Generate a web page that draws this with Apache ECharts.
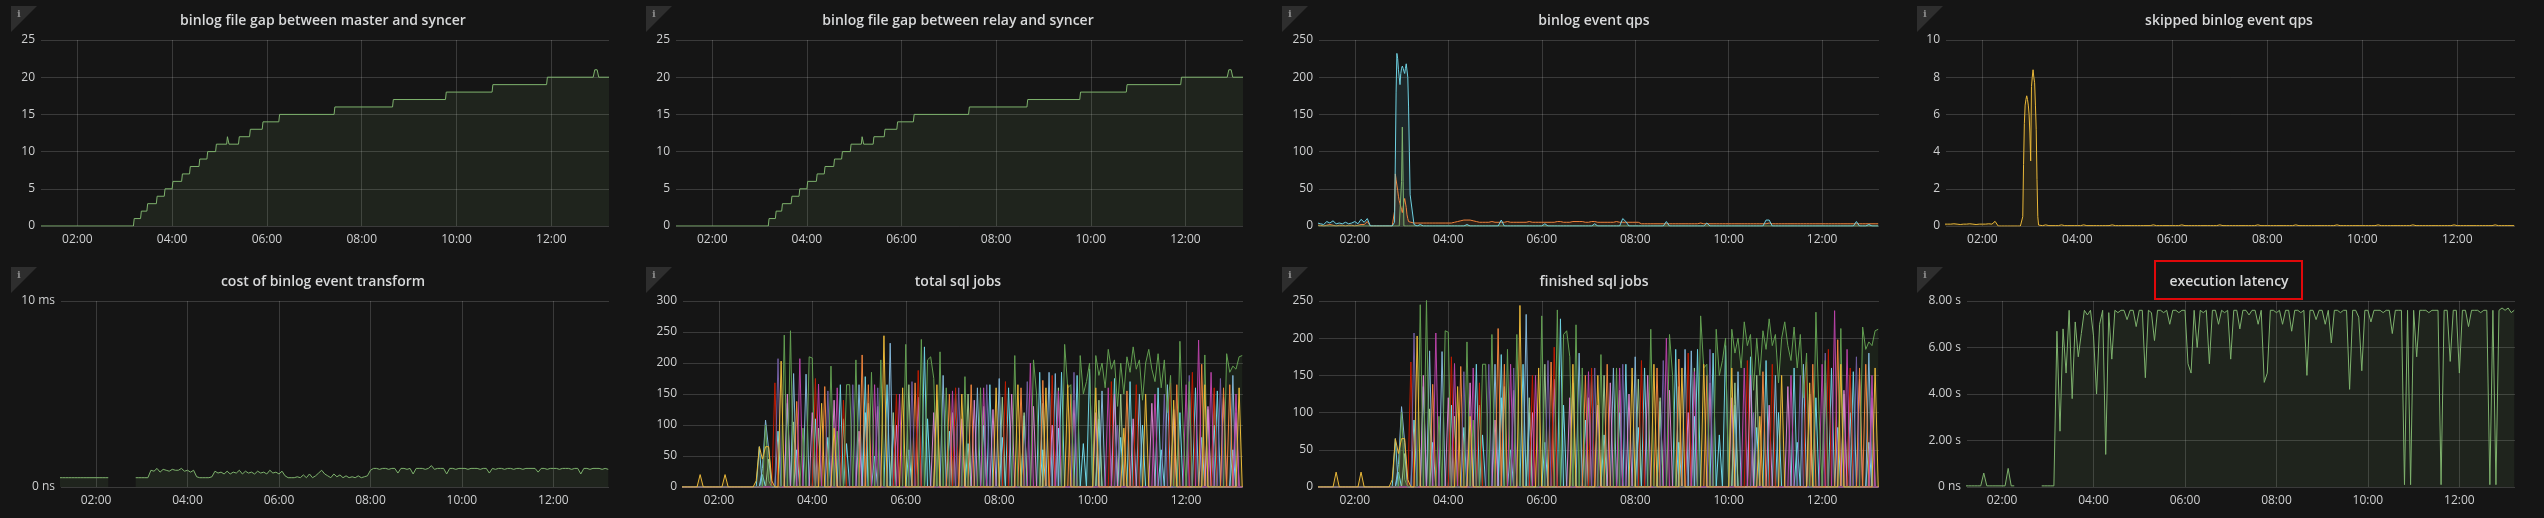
<!DOCTYPE html>
<html>
<head>
<meta charset="utf-8">
<script src="https://cdn.jsdelivr.net/npm/echarts@6.0.0/dist/echarts.min.js"></script>
<style>
  html, body { margin: 0; padding: 0; background: #151515; }
  #main { width: 2544px; height: 518px; }
</style>
</head>
<body>
<div id="main"></div>
<script>
// x values are minutes after midnight
const hourTicks = [120, 240, 360, 480, 600, 720];

// binlog file gap (master / relay), step changes
const gapTimes = [74,191,192,200,201,208,209,220,221,230,231,240,241,252,253,262,263,274,275,284,285,295,296,309,310,311,312,324,325,338,339,354,355,375,376,445,446,519,520,586,587,645,646,714,715,773,775,778,780,793];
const gapValues = [0,0,1,1,2,2,3,3,4,4,5,5,6,6,7,7,8,8,9,9,10,10,11,11,12,12,11,11,12,12,13,13,14,14,15,15,16,16,17,17,18,18,19,19,20,20,21,21,20,20];

// binlog event qps: pre (4 min), spike (1 min), post (4 min)
const qpsBluePre = [4,3,2,6,4,7,3,4,3,5, 3,4,6,3,9,5,10,0,0,0, 0,0,0,0,0];
const qpsBlueSpike = [0,0,5,90,180,232,225,210,200,190, 205,212,215,212,208,205,212,218,220,200, 160,100,42];
const qpsBluePost = [
  40,2,0,2,0,0,0,0,0,0, 0,0,0,0,0,0,0,0,2,0, 0,0,0,0,0,0,0,0,0,8, 0,0,0,0,0,0,0,0,0,0,
  0,0,0,3,0,0,0,0,0,0, 0,0,0,0,0,0,0,0,0,3, 0,0,0,0,0,0,0,0,10,6, 0,0,0,0,0,0,0,0,0,0,
  0,0,6,0,0,0,0,0,0,0, 0,0,0,0,0,4,0,0,0,0, 0,0,0,0,0,0,0,0,0,0, 0,0,0,0,8,8,0,0,0,0,
  0,0,0,0,0,0,0,0,0,0, 0,0,0,0,0,0,0,0,0,0, 0,0,0,6,0,0,0,2,0,0, 0];
const qpsOrangePre = [1,1,0,1,2,1,0,1,1,0, 1,1,0,1,2,2,6,0,0,0, 0,0,0,0,0];
const qpsOrangeSpike = [0,0,20,70,62,55,48,40,34,30, 28,22,18,25,32,37,35,25,15,10, 6,5,5];
const qpsOrangePost = [
  5,4,4,4,4,4,4,4,4,4, 4,4,4,4,5,6,7,8,8,8, 7,6,5,5,5,5,6,5,5,5, 5,6,5,5,5,5,5,5,6,5,
  5,5,5,5,5,5,5,6,6,5, 5,5,6,6,6,6,5,5,6,6, 5,5,5,5,5,5,6,5,5,5, 5,5,5,5,3,3,3,3,3,3,
  3,3,3,3,3,3,3,3,3,3, 3,3,3,4,3,3,3,3,3,3, 3,3,3,3,3,3,3,3,3,3, 3,3,3,3,3,4,3,3,3,3,
  3,3,3,3,3,3,3,3,3,3, 3,3,3,3,3,3,3,3,3,3, 3,3,3,3,3,3,3,3,3,3, 3];
const qpsGreenPre = [0,0,0,0,0,0,0,0,0,0, 0,0,0,0,0,0,0,0,0,0, 0,0,0,0,0];
const qpsGreenSpike = [0,0,0,0,0,0,0,0,0,0, 0,60,133,60,0,0,0,0,0,0, 0,0,0];
const qpsGreenPost = [
  0,0,0,0,0,0,0,0,0,0, 0,0,0,0,0,0,0,0,0,0, 0,0,0,0,0,0,0,0,0,0, 0,0,0,0,0,0,0,0,0,0,
  0,0,0,0,0,0,0,0,0,0, 0,0,0,0,0,0,0,0,0,0, 0,0,0,0,0,0,0,0,0,0, 0,0,0,0,0,0,0,0,0,0,
  0,0,0,0,0,0,0,0,0,0, 0,0,0,0,0,0,0,0,0,0, 0,0,0,0,0,0,0,0,0,0, 0,0,0,0,0,0,0,0,0,0,
  0,0,0,0,0,0,0,0,0,0, 0,0,0,0,0,0,0,0,0,0, 0,0,0,0,0,0,0,0,0,0, 0];

// skipped binlog event qps
const skipPre = [0.1,0.1,0.1,0.12,0.1,0.08,0.1,0.1,0.12,0.1, 0.08,0.1,0.1,0.1,0.12,0.1,0.25,0,0,0, 0,0,0,0,0];
const skipSpike = [0,0,0.5,3.3,5.5,6.5,6.8,7.0,6.8,6.5, 6.0,5.0,3.5,7.5,8.0,8.4,8.0,7.7,6.5,5.2, 2.5,0.5,0.05];
const skipPost = [
  0.02,0.02,0.06,0.02,0.02,0.02,0.02,0.06,0.02,0.02, 0.02,0.02,0.02,0.02,0.06,0.02,0.02,0.02,0.02,0.02,
  0.02,0.02,0.02,0.06,0.02,0.02,0.02,0.02,0.02,0.02, 0.02,0.02,0.02,0.02,0.02,0.02,0.06,0.02,0.02,0.02,
  0.02,0.02,0.02,0.02,0.02,0.06,0.02,0.02,0.02,0.02, 0.02,0.02,0.02,0.02,0.02,0.02,0.02,0.06,0.02,0.02,
  0.02,0.02,0.02,0.02,0.02,0.02,0.02,0.02,0.02,0.06, 0.02,0.02,0.02,0.02,0.02,0.02,0.02,0.02,0.02,0.02,
  0.02,0.06,0.02,0.02,0.02,0.02,0.02,0.02,0.02,0.02, 0.02,0.02,0.02,0.02,0.06,0.02,0.02,0.02,0.02,0.02,
  0.02,0.02,0.02,0.02,0.02,0.02,0.02,0.06,0.02,0.02, 0.02,0.02,0.02,0.02,0.02,0.02,0.02,0.02,0.06,0.02,
  0.02,0.02,0.02,0.02,0.02,0.02,0.02,0.02,0.02,0.02, 0.02,0.06,0.02,0.02,0.02,0.02,0.02,0.02,0.02,0.02,
  0.02,0.02,0.02,0.02,0.06,0.02,0.02,0.02,0.02,0.02, 0.02];

// cost of binlog event transform (ms), 4 min samples from 01:12
const costMs = [
  0.5,0.5,0.5,0.5,0.5,0.5,0.5,0.5,0.5,0.5, 0.5,0.5,0.5,0.5,0.5,0.5,0.5,null,null,null,
  null,null,null,null,null,0.5,0.5,0.5,0.5,0.5, 0.9,0.85,1.0,0.8,0.95,0.9,0.85,0.95,0.9,0.9,
  1.0,0.85,0.9,0.8,0.9,0.55,0.5,0.5,0.5,0.5, 0.55,0.85,0.75,0.8,0.7,0.85,0.7,0.8,0.75,0.9,
  0.7,0.85,0.75,0.8,0.7,0.85,0.75,0.8,0.7,0.9, 0.75,0.8,0.7,0.85,0.6,0.5,0.5,0.5,0.55,0.5,
  0.65,0.5,0.7,0.5,0.6,0.75,0.9,0.7,0.6,0.5, 0.7,0.55,0.65,0.5,0.6,0.5,0.55,0.5,0.6,0.5,
  0.55,0.6,0.9,1.0,1.0,0.95,1.0,1.0,0.95,1.0, 1.0,0.75,1.0,1.0,0.95,1.0,0.7,1.0,1.0,1.0,
  0.95,1.0,1.15,0.95,1.0,1.0,1.0,0.7,1.0,1.0, 0.95,1.0,1.0,1.0,0.95,1.0,1.0,1.0,0.95,1.0,
  1.0,0.75,1.0,0.95,1.0,1.0,0.95,1.0,1.0,0.95, 1.0,1.0,0.95,1.0,1.0,1.0,1.0,0.8,1.0,1.0,
  0.95,1.0,1.0,1.0,0.95,1.0,1.0,1.0,0.95,1.0, 1.0,0.7,1.0,1.0,0.95,1.0,1.0,1.0,0.95,1.0,
  0.95];

// execution latency (s), 4 min samples from 01:12
const latencyS = [
  0.05,0.05,0.05,0.05,0.05,0.05,0.6,0.05,0.05,0.05, 0.05,0.05,0.05,0.05,0.8,0.05,0.05,null,null,null,
  null,null,null,null,null,0.05,0.05,0.05,0.05,0.05, 6.7,2.4,6.8,4.9,7.6,3.8,7.1,5.6,6.6,7.6,
  7.4,7.6,6.5,4.0,7.0,7.6,1.4,7.5,5.5,7.6, 7.5,7.6,7.6,7.2,7.6,7.6,6.9,7.6,7.6,4.7,
  7.6,7.5,6.3,7.6,7.6,7.5,7.6,7.0,7.6,7.6, 7.5,7.6,7.6,5.3,4.9,7.6,6.0,7.6,7.5,7.6,
  5.3,7.6,7.6,7.0,7.6,7.5,7.6,5.5,7.6,7.6, 6.8,7.6,7.6,7.4,7.6,7.6,7.0,7.6,4.5,4.9,
  7.6,7.6,7.5,7.6,7.0,7.6,7.6,6.7,7.6,7.6, 7.5,7.6,4.8,7.6,7.6,7.2,7.6,7.6,7.0,7.6,
  6.2,7.6,7.6,7.5,7.6,7.6,4.2,7.6,7.6,7.3, 5.0,7.6,7.6,7.1,7.6,7.6,7.6,7.5,7.6,7.6,
  6.6,7.6,7.6,7.6,0.1,7.6,0.1,7.6,5.6,7.6, 7.6,7.6,7.5,7.6,7.6,7.6,0.1,7.6,7.6,5.4,
  7.6,7.6,4.9,7.6,7.6,6.9,7.6,7.6,7.6,7.5, 7.6,7.6,0.1,7.6,0.1,7.6,7.7,7.6,7.7,7.5,
  7.6];

// sql jobs per worker, 4 min samples from 01:12
const jobsA = [
  0,0,0,0,0,0,0,0,0,0, 0,0,0,0,0,0,0,0,0,0, 0,0,0,0,0,0,0,100,10,0, 0,0,0,245,0,252,0,0,0,95,
  0,210,208,0,0,0,0,0,195,0, 90,0,0,165,165,0,205,0,0,0, 0,185,0,0,205,0,0,0,0,0, 0,0,230,0,0,0,0,238,0,205,
  210,175,0,218,0,160,0,0,0,0, 0,178,0,0,0,0,160,0,0,0, 0,0,0,0,0,0,0,212,0,0, 0,0,0,205,150,0,0,0,0,0,
  0,0,0,230,160,165,0,0,212,150, 170,200,0,212,180,200,160,222,190,205, 130,200,150,210,185,226,190,205,140,200,
  222,190,170,215,160,205,120,180,0,0, 235,100,0,170,0,0,0,0,213,0, 0,0,0,0,0,215,185,195,190,210, 212];
const jobsB = [
  0,0,0,0,0,0,0,0,0,0, 0,0,0,0,0,0,0,0,0,0, 0,0,0,0,0,0,0,0,45,0, 0,0,0,0,0,0,105,0,0,0,
  0,0,0,0,95,0,0,0,0,0, 0,0,110,0,0,0,0,0,0,0, 135,0,0,0,0,0,0,0,120,0, 0,0,0,165,0,0,0,0,0,0,
  0,0,140,0,0,0,0,120,0,0, 0,0,150,0,0,0,0,130,0,0, 0,0,0,145,0,0,0,0,0,0, 120,0,0,0,0,0,135,0,0,0,
  0,160,0,0,0,0,0,0,0,0, 0,0,0,0,140,0,0,0,0,0, 0,150,0,0,0,0,0,0,0,0, 0,0,0,0,0,0,0,0,110,0,
  0,0,0,0,0,0,0,0,0,125, 0,150,0,0,0,0,0,0,0,0, 0];
const jobsC = [
  0,0,0,0,0,0,0,0,0,0, 0,0,0,0,0,0,0,0,0,0, 0,0,0,0,0,65,0,0,0,0, 0,0,0,0,135,0,0,0,0,0,
  0,0,0,0,0,0,0,0,0,0, 0,165,0,0,0,0,0,0,0,178, 0,0,0,0,0,0,165,0,0,0, 0,0,0,0,0,0,0,0,226,0,
  0,0,0,0,0,0,0,0,150,0, 0,0,0,0,0,0,0,0,0,165, 0,0,0,0,0,160,0,0,0,0, 0,0,0,0,0,185,0,0,0,0,
  0,0,185,0,0,0,0,180,0,0, 0,190,0,0,0,0,0,0,0,175, 0,0,0,0,170,0,0,0,0,0, 0,0,0,160,0,0,0,0,0,0,
  0,0,0,0,0,160,0,0,0,0, 0,0,155,0,0,0,0,0,0,0, 0];
const jobsD = [
  0,0,0,0,0,0,0,0,0,0, 0,0,0,0,0,0,0,0,0,0, 0,0,0,0,0,0,30,108,60,0, 0,0,0,0,0,0,183,0,0,0,
  182,0,0,0,0,0,0,0,0,0, 0,0,0,0,0,0,0,165,0,0, 0,0,0,0,0,0,0,232,0,0, 0,0,0,0,0,0,0,0,0,0,
  0,0,0,0,180,0,0,0,0,0, 0,0,0,0,0,160,0,0,0,0, 0,0,175,0,0,0,0,0,0,0, 0,0,0,0,0,0,0,0,185,0,
  183,0,0,0,0,0,0,0,0,0, 0,0,0,0,0,155,0,0,0,0, 0,0,0,0,0,0,0,150,0,0, 0,0,0,0,0,0,165,0,0,0,
  0,0,0,0,0,0,0,0,0,0, 0,0,0,0,0,0,0,180,0,0, 0];
const jobsE = [
  0,0,0,0,0,0,0,0,0,0, 0,0,0,0,0,0,0,0,0,0, 0,0,0,0,0,0,0,0,0,0, 0,0,0,0,0,0,0,138,0,0,
  0,0,0,0,0,0,162,0,0,0, 0,0,0,0,0,0,0,0,213,0, 165,0,0,0,0,0,0,0,0,0, 0,0,0,0,0,168,0,0,0,0,
  0,0,0,0,0,0,150,0,0,0, 0,0,0,165,0,0,0,0,0,0, 0,0,0,0,0,0,0,0,0,160, 0,0,0,0,0,0,172,0,0,0,
  0,0,0,0,0,150,0,0,0,0, 0,0,0,0,0,0,0,0,0,0, 0,0,0,155,0,0,0,0,0,0, 0,0,0,0,0,0,0,0,0,165,
  0,0,0,0,0,0,0,198,0,0, 0,0,0,0,160,0,165,0,0,0, 0];
const jobsF = [
  0,0,0,0,0,0,0,0,0,0, 0,0,0,0,0,0,0,0,0,0, 0,0,0,0,0,0,0,0,0,0, 168,0,0,0,0,0,0,0,0,0,
  0,0,0,175,0,0,0,0,0,0, 0,0,140,0,0,0,0,0,0,0, 0,0,0,0,0,0,0,0,0,150, 0,0,0,0,0,0,188,0,0,0,
  0,0,0,0,0,0,0,0,160,0, 0,0,0,0,0,0,0,0,0,0, 0,0,0,0,170,0,0,0,0,0, 0,0,0,0,0,0,0,0,0,180,
  0,0,0,0,0,0,0,0,0,0, 0,0,0,0,0,0,0,0,170,0, 0,0,0,0,0,0,165,0,0,0, 0,0,0,0,0,0,0,168,0,0,
  0,0,0,0,185,0,0,0,0,0, 0,160,0,0,0,0,0,0,0,0, 0];
const jobsG = [
  0,0,0,0,0,0,0,0,0,0, 0,0,0,0,0,0,0,0,0,0, 0,0,0,0,0,0,0,0,0,0, 0,0,0,0,0,0,0,0,207,0,
  0,0,0,0,166,0,0,0,0,0, 160,0,0,0,0,0,0,0,0,0, 0,0,165,0,0,0,0,0,0,0, 150,0,0,0,0,0,0,0,0,0,
  0,0,0,0,0,0,0,155,0,0, 0,0,0,0,0,0,0,160,0,0, 0,0,0,0,0,0,0,0,0,0, 0,0,200,0,0,0,0,0,0,0,
  0,155,0,0,0,0,0,0,0,0, 0,0,0,0,0,0,0,160,0,0, 0,0,0,0,0,0,0,0,0,0, 0,0,150,0,0,0,0,0,0,0,
  0,0,165,0,0,0,237,0,0,0, 185,0,0,0,0,0,0,0,150,0, 0];
const jobsH = [
  0,0,0,0,0,0,0,0,0,0, 0,0,0,0,0,0,0,0,0,0, 0,0,0,0,0,0,0,0,0,0, 0,207,0,0,0,0,0,0,0,0,
  0,0,0,0,0,0,0,155,0,0, 0,0,0,0,0,165,0,0,0,0, 0,0,0,160,0,0,0,0,0,0, 0,0,0,0,170,0,0,0,0,0,
  0,0,0,0,0,0,0,0,0,160, 0,0,0,0,0,0,0,0,165,0, 0,0,0,0,0,0,0,0,0,0, 0,170,0,0,0,0,0,0,0,0,
  0,0,0,0,0,0,185,0,0,0, 0,0,0,0,0,0,0,0,0,0, 100,0,0,0,0,0,0,0,0,0, 0,0,0,0,0,150,0,0,0,0,
  0,0,0,180,0,0,0,0,0,0, 0,0,0,175,0,0,0,0,0,0, 0];
const jobsI = [
  0,0,0,0,0,0,20,0,0,0, 0,0,0,0,20,0,0,0,0,0, 0,0,0,0,10,65,45,65,65,10, 0,0,203,0,0,0,0,0,0,0,
  0,0,0,0,0,135,0,0,0,95, 0,0,0,0,0,0,0,0,0,0, 0,0,0,0,0,244,0,0,0,0, 0,160,0,0,0,0,0,0,0,0,
  0,0,165,0,0,0,0,0,0,0, 150,0,0,0,0,0,0,0,0,0, 0,160,0,0,0,0,0,0,165,0, 0,0,0,0,0,0,0,160,0,0,
  0,0,0,0,165,0,0,0,0,0, 0,0,0,160,0,0,0,0,0,0, 0,0,95,0,0,0,0,0,0,150, 0,0,0,0,0,0,0,0,140,0,
  0,0,0,0,0,0,0,0,165,0, 0,0,0,0,0,0,0,0,0,160, 0];
const jobsJ = [
  0,0,0,0,0,0,0,0,0,0, 0,0,0,0,0,0,0,0,0,0, 0,0,0,0,0,0,0,0,0,0, 0,0,0,0,150,0,0,0,0,0,
  0,0,120,0,0,0,0,0,0,140, 0,0,0,0,0,0,0,90,0,0, 0,0,0,130,0,0,0,0,0,100, 0,0,0,0,0,0,145,0,0,0,
  0,120,0,0,0,0,0,0,0,0, 110,0,0,0,140,0,0,0,0,0, 125,0,0,0,0,0,150,0,0,0, 0,0,0,130,0,0,0,0,0,100,
  0,0,0,0,0,0,140,0,0,0, 0,0,0,120,0,0,0,0,0,150, 0,0,0,0,0,110,0,0,0,0, 0,135,0,0,0,0,0,0,125,0,
  0,0,0,140,0,0,0,0,0,130, 0,0,0,0,145,0,0,0,120,0, 0];
const jobsK = [
  0,0,0,0,0,0,0,0,0,0, 0,0,0,0,0,0,0,0,0,0, 0,0,0,0,0,0,20,0,0,0, 0,90,0,0,0,0,0,60,0,0,
  0,0,0,110,0,0,0,80,0,0, 0,0,0,70,0,0,0,0,0,120, 0,0,50,0,0,0,0,0,100,0, 0,0,0,60,0,0,0,0,0,110,
  0,0,0,0,0,0,90,0,0,0, 0,0,70,0,0,0,0,100,0,0, 0,0,0,80,0,0,0,0,0,0, 115,0,0,0,0,0,60,0,0,0,
  0,95,0,0,0,0,0,0,0,70, 0,0,0,0,110,0,0,0,0,0, 0,80,0,0,0,0,0,0,100,0, 0,0,0,0,60,0,0,0,0,0,
  120,0,0,0,0,0,0,80,0,0, 0,100,0,0,0,0,0,60,0,0, 0];

const bg = '#151515';
const gridC = 'rgba(255,255,255,0.16)';
const txt = '#cfd0d1';
const font = '"Open Sans", "Noto Sans", sans-serif';

function range(a, b, s) {
  const r = [];
  for (let t = a; t <= b; t += s) r.push(t);
  return r;
}
const T = range(72, 792, 4);
const qpsT = range(72, 168, 4).concat(range(169, 191, 1), range(192, 792, 4));
function zip(ts, vs) { return vs.map((v, i) => [ts[i], v]); }

function hhmm(v) {
  const h = Math.floor(v / 60), m = v % 60;
  return String(h).padStart(2, '0') + ':' + String(m).padStart(2, '0');
}

const panelLeft = [11, 646, 1282, 1917];
const rowTop = [0, 258];
const grids = [
  { left: 41, top: 40, width: 568, height: 186 },
  { left: 676, top: 40, width: 567, height: 186 },
  { left: 1319, top: 40, width: 560, height: 186 },
  { left: 1946, top: 40, width: 569, height: 186 },
  { left: 61, top: 301, width: 548, height: 186 },
  { left: 683, top: 301, width: 560, height: 186 },
  { left: 1319, top: 301, width: 560, height: 186 },
  { left: 1967, top: 301, width: 548, height: 186 }
];
const titles = [
  'binlog file gap between master and syncer',
  'binlog file gap between relay and syncer',
  'binlog event qps',
  'skipped binlog event qps',
  'cost of binlog event transform',
  'total sql jobs',
  'finished sql jobs',
  'execution latency'
];

function xAx(i) {
  return {
    type: 'value', gridIndex: i, min: 74, max: 793,
    axisLine: { show: false },
    axisTick: { show: false, customValues: hourTicks },
    axisLabel: { customValues: hourTicks, formatter: hhmm, color: txt, fontSize: 12, fontFamily: font, margin: 8 },
    splitLine: { show: true, lineStyle: { color: gridC, width: 1 } }
  };
}
function yAx(i, max, interval, fmt) {
  return {
    type: 'value', gridIndex: i, min: 0, max: max, interval: interval,
    axisLine: { show: false },
    axisTick: { show: false },
    axisLabel: { color: txt, fontSize: 12, fontFamily: font, margin: 6, formatter: fmt },
    splitLine: { show: true, lineStyle: { color: gridC, width: 1 } }
  };
}
function line(gi, data, color) {
  return {
    type: 'line', xAxisIndex: gi, yAxisIndex: gi, data: data,
    showSymbol: false, symbol: 'none', connectNulls: false,
    lineStyle: { width: 1, color: color }, itemStyle: { color: color },
    areaStyle: { color: color, opacity: 0.1 },
    animation: false
  };
}

var graphics = [];
for (let i = 0; i < 8; i++) {
  const col = i % 4, row = Math.floor(i / 4);
  const px = panelLeft[col], py = rowTop[row] + (row ? 9 : 6);
  // little info corner
  graphics.push({ type: 'polygon', shape: { points: [[px, py], [px + 26, py], [px, py + 26]] }, style: { fill: '#2e2e2e' } });
  graphics.push({ type: 'text', x: px + 6, y: py + 3, style: { text: 'i', fill: '#8a8a8a', font: 'bold 10px "DejaVu Serif", serif' } });
  graphics.push({
    type: 'text', x: px + 312, y: rowTop[row] + (row ? 24 : 21),
    style: { text: titles[i], fill: '#d8d9da', font: '600 14px ' + font, align: 'center', verticalAlign: 'middle' }
  });
}
// highlight box round the latency title
graphics.push({ type: 'rect', shape: { x: 2155, y: 261, width: 147, height: 38 }, style: { fill: 'none', stroke: '#e0080a', lineWidth: 2 } });

const jobsSeries = [
  [jobsK, '#70DBED'], [jobsB, '#9AC48A'], [jobsC, '#6ED0E0'], [jobsD, '#82B5D8'], [jobsJ, '#D683CE'],
  [jobsE, '#EF843C'], [jobsF, '#BF1B00'], [jobsG, '#BA43A9'], [jobsH, '#705DA0'], [jobsA, '#629E51'], [jobsI, '#EAB839']
];

var series = [
  line(0, zip(gapTimes, gapValues), '#7EB26D'),
  line(1, zip(gapTimes, gapValues), '#7EB26D'),
  line(2, zip(qpsT, qpsOrangePre.concat(qpsOrangeSpike, qpsOrangePost)), '#EF843C'),
  line(2, zip(qpsT, qpsGreenPre.concat(qpsGreenSpike, qpsGreenPost)), '#7EB26D'),
  line(2, zip(qpsT, qpsBluePre.concat(qpsBlueSpike, qpsBluePost)), '#6ED0E0'),
  line(3, zip(qpsT, skipPre.concat(skipSpike, skipPost)), '#EAB839'),
  line(4, zip(T, costMs), '#7EB26D'),
  line(7, zip(T, latencyS), '#7EB26D')
];
jobsSeries.forEach(s => {
  series.push(line(5, zip(T, s[0]), s[1]));
  series.push(line(6, zip(T, s[0]), s[1]));
});

var option = {
  backgroundColor: bg,
  animation: false,
  grid: grids,
  xAxis: [0, 1, 2, 3, 4, 5, 6, 7].map(xAx),
  yAxis: [
    yAx(0, 25, 5),
    yAx(1, 25, 5),
    yAx(2, 250, 50),
    yAx(3, 10, 2),
    yAx(4, 10, 10, v => v === 0 ? '0 ns' : v + ' ms'),
    yAx(5, 300, 50),
    yAx(6, 250, 50),
    yAx(7, 8, 2, v => v === 0 ? '0 ns' : v.toFixed(2) + ' s')
  ],
  graphic: graphics,
  series: series
};

var myChart = echarts.init(document.getElementById('main'), null, { renderer: 'canvas' });
myChart.setOption(option);
</script>
</body>
</html>
